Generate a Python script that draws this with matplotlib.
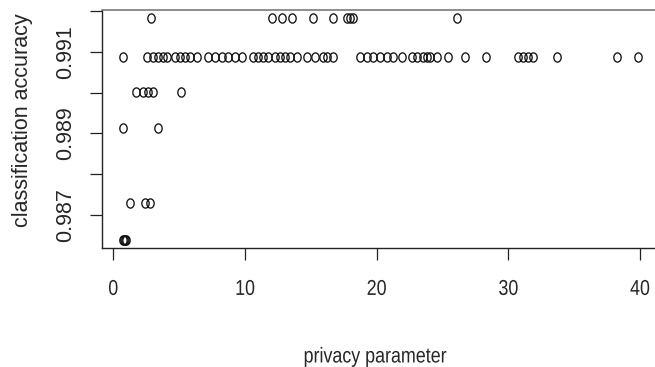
import numpy as np
import matplotlib
matplotlib.use('Agg')
import matplotlib.pyplot as plt
from matplotlib import patheffects
from matplotlib.path import Path
from matplotlib.transforms import Affine2D

# Accuracy levels reached, top to bottom
acc_levels = [0.99183, 0.99087, 0.99001, 0.98913, 0.98729, 0.98639]

# Privacy parameter values observed at each accuracy level
eps_by_level = [
    [2.84, 12.03, 12.79, 13.55, 15.19, 16.70, 17.74, 17.97, 18.20, 26.07],
    [0.76, 2.54, 3.04, 3.42, 3.80, 4.05, 4.68, 5.06, 5.44, 5.82, 6.33,
     7.21, 7.72, 8.23, 8.73, 9.24, 9.75, 10.63, 11.01, 11.39, 11.77,
     12.28, 12.66, 13.04, 13.42, 13.95, 14.68, 15.32, 15.95, 16.20, 16.70,
     18.73, 19.24, 19.74, 20.25, 20.76, 21.26, 21.90, 22.66, 23.04, 23.54,
     23.80, 24.05, 24.58, 25.44, 26.74, 28.30, 30.75, 31.13, 31.51, 31.89,
     33.67, 38.22, 39.86],
    [1.75, 2.22, 2.64, 3.02, 5.14],
    [0.76, 3.42],
    [1.27, 2.41, 2.79],
    [0.70, 0.78, 0.86, 0.95],
]

x_ticks = [0, 10, 20, 30, 40]
y_ticks = [0.987, 0.988, 0.989, 0.990, 0.991, 0.992]
y_tick_labels = ['0.987', '', '0.989', '', '0.991', '']

x = np.concatenate([np.array(e) for e in eps_by_level])
y = np.concatenate([np.full(len(e), a) for e, a in zip(eps_by_level, acc_levels)])


class HSqueeze(patheffects.AbstractPathEffect):
    """Draw text narrower by scaling its glyphs horizontally about their centre."""

    def __init__(self, sx):
        super().__init__()
        self.sx = sx

    def draw_path(self, renderer, gc, tpath, affine, rgbFace=None):
        ext = tpath.get_extents(affine)
        cx = 0.5 * (ext.x0 + ext.x1)
        squeeze = Affine2D().translate(-cx, 0).scale(self.sx, 1).translate(cx, 0)
        renderer.draw_path(gc, tpath, affine + squeeze, rgbFace)


narrow = [HSqueeze(0.83)]

# open circle marker, slightly narrow
t = np.linspace(0, 2 * np.pi, 60)
ring = Path(np.column_stack([0.8 * np.cos(t), np.sin(t)]))

font = ['Liberation Sans', 'DejaVu Sans']
fs = 15.5
txt = '#262626'

fig = plt.figure(figsize=(6.55, 3.67), dpi=100)
ax = fig.add_axes([0.1553, 0.3229, 0.8493, 0.6512])

ax.plot(x, y, linestyle='none', marker=ring, markersize=6.6,
        markerfacecolor='none', markeredgecolor='#111111', markeredgewidth=0.95)

ax.set_xlim(-0.88, 41.36)
ax.set_ylim(0.98618, 0.99204)

ax.set_xticks(x_ticks)
ax.set_xticklabels([str(v) for v in x_ticks], fontfamily=font, fontsize=fs,
                   color=txt, path_effects=narrow)
ax.set_yticks(y_ticks)
ax.set_yticklabels(y_tick_labels, rotation=90, va='center', fontfamily=font,
                   fontsize=fs, color=txt)

ax.tick_params(axis='both', direction='out', length=8.6, width=0.9, colors='#222222')
ax.tick_params(axis='x', pad=13.3, labelcolor=txt)
ax.tick_params(axis='y', pad=9.5, labelcolor=txt)

for side in ['left', 'bottom']:
    ax.spines[side].set_color('#222222')
    ax.spines[side].set_linewidth(1.0)
ax.spines['top'].set_color('#7a7a7a')
ax.spines['top'].set_linewidth(1.2)
ax.spines['right'].set_visible(False)

ax.set_xlabel('privacy parameter', fontfamily=font, fontsize=fs, color=txt,
              path_effects=narrow)
ax.set_ylabel('classification accuracy', fontfamily=font, fontsize=fs, color=txt)
ax.xaxis.set_label_coords(0.491, -0.41)
ax.yaxis.set_label_coords(-0.1244, 0.5377)

plt.savefig('out.png', dpi=100)
